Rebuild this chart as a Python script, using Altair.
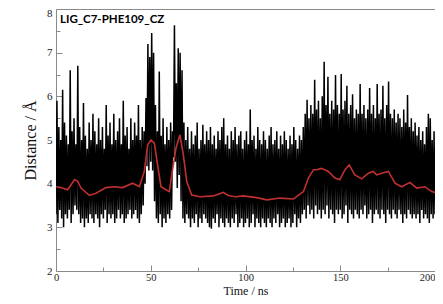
import altair as alt
import pandas as pd

# black trace: per-ns high and low values
peaks = [
    5.9, 5.3, 5.0, 6.15, 5.4, 5.1, 4.9, 6.6, 5.2, 5.5,
    4.9, 6.7, 5.3, 5.0, 5.85, 5.1, 4.8, 5.4, 5.0, 5.6,
    5.2, 4.9, 5.5, 5.0, 5.3, 4.8, 5.8, 5.1, 5.4, 4.9,
    5.6, 5.0, 5.2, 5.5, 4.9, 5.9, 5.1, 5.3, 4.8, 5.5,
    5.0, 5.4, 5.1, 5.8, 5.0, 5.3, 5.2, 5.96, 7.2, 6.9,
    7.45, 7.0, 5.8, 5.2, 6.57, 5.1, 5.5, 4.9, 5.3, 5.0,
    5.4, 5.2, 7.63, 6.3, 7.1, 7.0, 6.6, 5.4, 5.0, 5.3,
    4.8, 5.2, 4.9, 5.1, 5.4, 4.8, 5.0, 5.35, 4.9, 5.2,
    5.0, 5.3, 4.9, 5.1, 4.8, 5.2, 5.0, 5.3, 5.5, 4.9,
    5.1, 4.8, 5.2, 5.0, 5.3, 4.9, 5.1, 5.2, 4.8, 5.0,
    5.2, 4.9, 5.7, 5.0, 5.1, 4.8, 5.3, 5.0, 4.9, 5.2,
    5.0, 4.8, 5.1, 5.3, 4.9, 5.0, 5.2, 4.8, 5.1, 4.9,
    5.2, 5.0, 4.8, 5.1, 4.9, 5.3, 5.0, 4.8, 5.1, 5.0,
    5.3, 5.6, 5.92, 5.5, 5.8, 5.6, 6.38, 5.7, 5.9, 5.5,
    6.0, 6.79, 5.8, 6.45, 5.6, 5.9, 5.7, 6.49, 5.8, 5.6,
    6.51, 5.7, 5.9, 6.24, 5.6, 5.8, 6.05, 5.5, 5.7, 5.6,
    6.28, 5.6, 5.8, 5.5, 5.7, 6.19, 5.6, 5.8, 5.5, 6.28,
    5.6, 5.7, 6.24, 5.5, 5.8, 6.34, 5.6, 5.5, 5.7, 5.4,
    5.6, 5.5, 5.3, 5.7, 5.4, 6.03, 5.3, 5.5, 5.2, 5.4,
    5.1, 5.3, 5.0, 5.2, 4.9, 5.3, 5.6, 5.5, 5.0, 5.2,
    4.9, 5.1, 5.0, 4.8, 5.1,
]
troughs = [
    3.3, 3.1, 3.4, 3.2, 3.0, 3.3, 3.2, 3.4, 3.1, 3.3,
    3.5, 3.4, 3.3, 3.1, 3.2, 3.0, 3.2, 3.1, 3.3, 3.2,
    3.1, 3.3, 3.2, 3.0, 3.3, 3.2, 3.4, 3.1, 3.3, 3.2,
    3.3, 3.1, 3.2, 3.4, 3.2, 3.3, 3.1, 3.2, 3.3, 3.4,
    3.2, 3.3, 3.4, 3.2, 3.1, 3.3, 3.5, 4.0, 4.4, 4.3,
    4.5, 4.3, 3.6, 3.2, 3.1, 3.3, 3.0, 3.2, 3.1, 3.3,
    3.2, 3.4, 4.6, 4.5, 3.9, 4.2, 3.6, 3.2, 3.1, 3.3,
    3.2, 3.0, 3.2, 3.1, 3.3, 3.0, 3.2, 3.1, 3.3, 3.2,
    3.1, 3.0, 2.97, 3.2, 3.1, 3.3, 3.0, 3.2, 3.1, 3.0,
    3.2, 3.1, 3.0, 3.2, 3.1, 3.3, 3.0, 3.1, 3.2, 3.0,
    3.1, 3.2, 3.0, 3.1, 3.3, 3.0, 3.2, 3.1, 3.0, 3.2,
    3.1, 3.0, 3.2, 3.1, 3.0, 3.2, 3.1, 3.3, 3.0, 3.1,
    3.2, 3.0, 3.1, 3.2, 3.0, 3.1, 3.3, 3.0, 3.2, 3.1,
    3.3, 3.4, 3.2, 3.5, 3.3, 3.4, 3.2, 3.5, 3.3, 3.4,
    3.2, 3.4, 3.3, 3.5, 3.2, 3.4, 3.3, 3.1, 3.4, 3.3,
    3.4, 3.2, 3.3, 3.5, 3.1, 3.4, 3.3, 3.2, 3.4, 3.3,
    3.2, 3.4, 3.3, 3.5, 3.2, 3.3, 3.4, 3.1, 3.3, 3.4,
    3.3, 3.2, 3.4, 3.3, 3.1, 3.4, 3.3, 3.2, 3.4, 3.3,
    3.2, 3.4, 3.3, 3.1, 3.3, 3.2, 3.4, 3.3, 3.2, 3.3,
    3.2, 3.3, 3.1, 3.4, 3.2, 3.3, 3.2, 3.1, 3.3, 3.2,
    3.3, 3.1, 3.2, 3.3, 3.2,
]

# red running average
avg_time = [0, 2.6, 6.2, 9.7, 11.4, 13.2, 17.6, 21.1, 26.4, 30.8,
            35.2, 40.4, 44, 46.6, 48.4, 50.1, 51.9, 53.6, 55.4, 58,
            59.8, 61.6, 63.3, 65.4, 67.2, 69, 71.6, 76, 83, 88.3,
            90.9, 94.5, 98.9, 105.9, 111.2, 118.2, 125.3, 130.6, 133.2, 135.9,
            137.5, 140.1, 143.7, 147.2, 149.8, 152.5, 154.7, 157.7, 161.3, 164.8,
            167.4, 169.2, 171.8, 175.4, 178.9, 182.4, 186.8, 190.3, 194.7, 198.2,
            202.6, 204.3]
avg_val = [3.93, 3.91, 3.86, 4.09, 4.06, 3.90, 3.73, 3.78, 3.91, 3.93,
           3.91, 4.01, 3.93, 4.28, 4.89, 5.0, 4.93, 4.43, 3.93, 3.86,
           3.82, 4.35, 4.81, 5.12, 4.66, 4.05, 3.74, 3.70, 3.72, 3.80,
           3.73, 3.70, 3.72, 3.68, 3.63, 3.67, 3.65, 3.82, 4.13, 4.32,
           4.32, 4.35, 4.28, 4.13, 4.09, 4.32, 4.43, 4.20, 4.11, 4.24,
           4.28, 4.20, 4.24, 4.28, 4.01, 3.93, 4.03, 3.90, 3.93, 3.82,
           3.77, 3.77]

x_ticks = [0, 25, 50, 75, 100, 125, 150, 175, 200]
x_labels = [0, 50, 100, 150, 200]
y_ticks = [2, 2.5, 3, 3.5, 4, 4.5, 5, 5.5, 6, 6.5, 7, 7.5, 8]
y_labels = [2, 3, 4, 5, 6, 7, 8]
label_text = "LIG_C7-PHE109_CZ"

rows = []
for i in range(len(peaks)):
    rows.append({"t": i, "d": troughs[i]})
    rows.append({"t": i + 0.5, "d": peaks[i]})
trace = pd.DataFrame(rows)
avg = pd.DataFrame({"t": avg_time, "d": avg_val})

W, H = 379, 262
SERIF = "Liberation Serif"
GRAY = "#8a8a8a"

xs = alt.Scale(domain=[0, 200], nice=False, zero=False)
ys = alt.Scale(domain=[2, 8], nice=False, zero=False)

# bottom axis: domain, labels, title
x_main = alt.X("t:Q", scale=xs, axis=alt.Axis(
    values=x_labels, ticks=False, grid=False, domain=True, domainColor=GRAY,
    labelFont=SERIF, labelFontSize=10.5, labelColor="#222", labelPadding=1,
    labelFlush=False, labelOverlap=False,
    labelAlign={"condition": {"test": "datum.value === 200", "value": "right"}, "value": "center"},
    title="Time / ns", titleFont=SERIF, titleFontSize=12, titleFontWeight="normal",
    titleColor="#111", titleBaseline="alphabetic", titleY=23))
# left axis: domain, labels, title
y_main = alt.Y("d:Q", scale=ys, axis=alt.Axis(
    values=y_labels, ticks=False, grid=False, domain=True, domainColor=GRAY,
    labelFont=SERIF, labelFontSize=11, labelColor="#222", labelPadding=4,
    labelFlush=False, labelOverlap=False,
    labelOffset={"condition": {"test": "datum.value === 8", "value": 4}, "value": 0},
    title="Distance / Å", titleFont=SERIF, titleFontSize=16, titleFontWeight="normal",
    titleColor="#111", titlePadding=8))

black = alt.Chart(trace).mark_line(color="black", strokeWidth=1.5, clip=True).encode(
    x=x_main, y=y_main)

# top frame line + inward left ticks
x_top = alt.X("t:Q", scale=xs, axis=alt.Axis(
    orient="top", labels=False, ticks=False, grid=False, domain=True,
    domainColor=GRAY, title=None))
y_tick = alt.Y("d:Q", scale=ys, axis=alt.Axis(
    orient="right", offset=-W, values=y_ticks, labels=False, domain=False, grid=False,
    tickColor=GRAY, tickWidth=1,
    tickSize={"condition": {"test": "datum.value % 1 === 0", "value": 6}, "value": 4},
    title=None))

red = alt.Chart(avg).mark_line(color="#c0302e", strokeWidth=1.6, clip=True).encode(
    x=x_top, y=y_tick)

# inward bottom ticks (invisible carrier layer)
x_tick = alt.X("t:Q", scale=xs, axis=alt.Axis(
    orient="top", offset=-H, values=x_ticks, labels=False, domain=False, grid=False,
    tickColor=GRAY, tickWidth=1,
    tickSize={"condition": {"test": "datum.value % 50 === 0", "value": 6}, "value": 4},
    title=None))
ticks = alt.Chart(avg).mark_line(opacity=0).encode(
    x=x_tick, y=alt.Y("d:Q", scale=ys, axis=None))

label = alt.Chart(pd.DataFrame({"txt": [label_text]})).mark_text(
    font="Lato", fontWeight="bold", fontSize=11.5, color="black",
    align="left", baseline="alphabetic").encode(
    x=alt.value(4), y=alt.value(14), text="txt:N")

chart = alt.layer(black, red, ticks, label).resolve_axis(
    x="independent", y="independent").properties(
    width=W, height=H,
    autosize=alt.AutoSizeParams(type="none"),
    padding={"left": 48, "top": 1, "right": 0, "bottom": 25},
    background="white",
).configure_view(stroke="transparent", strokeWidth=0)

chart.save("out.html", embed_options={"renderer": "svg", "actions": False})
